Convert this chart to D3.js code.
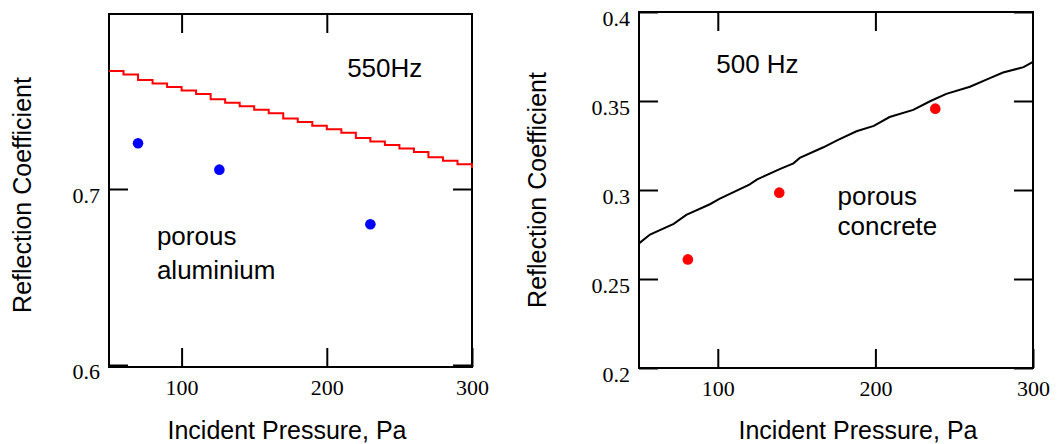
<!DOCTYPE html>
<html>
<head>
<meta charset="utf-8">
<script src="https://cdn.jsdelivr.net/npm/d3@7"></script>
<style>
    body { margin: 0; background: #fff; }
    .tick text { font-family: "Liberation Serif", "Times New Roman", serif; font-size: 22px; fill: #000; }
    .tick line { stroke: #000; stroke-width: 2px; }
    .label { font-family: "Liberation Sans", Arial, sans-serif; font-size: 25px; fill: #000; }
</style>
</head>
<body>
<svg width="1062" height="444"></svg>
<script>
// left panel: porous aluminium, 550 Hz
const aluPressure = [50, 60, 70, 80, 90, 100, 110, 120, 130, 140, 150, 160, 170,
    180, 190, 200, 210, 220, 230, 240, 250, 260, 270, 280, 290, 300];
const aluModel = [0.767, 0.765, 0.762, 0.760, 0.758, 0.756, 0.754, 0.751, 0.749,
    0.747, 0.745, 0.743, 0.740, 0.738, 0.736, 0.734, 0.732, 0.729, 0.727, 0.725,
    0.723, 0.721, 0.718, 0.716, 0.714, 0.712];
const aluMeasPressure = [70, 126, 230];
const aluMeasured = [0.726, 0.711, 0.680];

// right panel: porous concrete, 500 Hz
const conPressure = [50, 57, 72, 80, 95, 101, 120, 125, 140, 148, 152, 167, 176,
    188, 199, 209, 224, 235, 245, 260, 273, 281, 294, 300];
const conModel = [0.270, 0.275, 0.281, 0.286, 0.292, 0.295, 0.303, 0.306, 0.312,
    0.315, 0.318, 0.324, 0.328, 0.333, 0.336, 0.341, 0.345, 0.350, 0.354, 0.358,
    0.363, 0.366, 0.369, 0.372];
const conMeasPressure = [81, 139, 238];
const conMeasured = [0.261, 0.2985, 0.3457];

const xTicks = [100, 200, 300];
const aluYTicks = [0.6, 0.7];
const conYTicks = [0.2, 0.25, 0.3, 0.35, 0.4];

const svg = d3.select("svg");

function drawPanel(opt) {
    const x = d3.scaleLinear().domain([50, 300]).range([opt.left, opt.right]);
    const y = d3.scaleLinear().domain(opt.yDomain).range([opt.bottom, opt.top]);
    const g = svg.append("g");
    const tickLen = 19;

    // inward ticks on all four sides
    g.append("g")
        .attr("transform", "translate(0," + (opt.frameBottom) + ")")
        .call(d3.axisBottom(x).tickValues(xTicks).tickSize(-tickLen).tickPadding(12).tickFormat(d3.format("d")))
        .call(s => s.select(".domain").remove());
    g.append("g")
        .attr("transform", "translate(0," + (opt.frameTop) + ")")
        .call(d3.axisTop(x).tickValues(xTicks.filter(d => d < 300)).tickSize(-tickLen).tickFormat(""))
        .call(s => s.select(".domain").remove());
    g.append("g")
        .attr("transform", "translate(" + opt.left + ",0)")
        .call(d3.axisLeft(y).tickValues(opt.yTicks).tickSize(-tickLen).tickPadding(9).tickFormat(d => d))
        .call(s => s.select(".domain").remove())
        .call(s => s.selectAll(".tick text").attr("dy", "0.6em"));
    g.append("g")
        .attr("transform", "translate(" + opt.right + ",0)")
        .call(d3.axisRight(y).tickValues(opt.yTicks).tickSize(-tickLen).tickFormat(""))
        .call(s => s.select(".domain").remove());

    g.append("rect")
        .attr("x", opt.left)
        .attr("y", opt.frameTop)
        .attr("width", opt.right - opt.left)
        .attr("height", opt.frameBottom - opt.frameTop)
        .attr("fill", "none")
        .attr("stroke", "#000")
        .attr("stroke-width", 2);

    const line = d3.line()
        .x((d, i) => x(opt.pressure[i]))
        .y(d => y(d))
        .curve(opt.curve);
    g.append("path")
        .datum(opt.model)
        .attr("d", line)
        .attr("fill", "none")
        .attr("stroke", opt.lineColor)
        .attr("stroke-width", 2);

    g.selectAll("ellipse.pt")
        .data(opt.measured)
        .enter().append("ellipse")
        .attr("class", "pt")
        .attr("cx", (d, i) => x(opt.measPressure[i]))
        .attr("cy", d => y(d))
        .attr("rx", 5.3)
        .attr("ry", 5.3)
        .attr("fill", opt.dotColor);

    opt.notes.forEach(function (n) {
        g.append("text")
            .attr("class", "label")
            .style("font-size", "26px")
            .attr("x", x(n.x))
            .attr("y", y(n.y))
            .text(n.text);
    });

    // axis titles
    g.append("text")
        .attr("class", "label")
        .attr("text-anchor", "middle")
        .attr("x", opt.xTitleX)
        .attr("y", 439)
        .text("Incident Pressure, Pa");
    g.append("text")
        .attr("class", "label")
        .attr("text-anchor", "middle")
        .attr("transform", "translate(" + opt.yTitleX + "," + opt.yTitleY + ") rotate(-90)")
        .text("Reflection Coefficient");
}

drawPanel({
    left: 109, right: 472, top: 13, bottom: 365, frameTop: 14, frameBottom: 367,
    yDomain: [0.6, 0.8], yTicks: aluYTicks,
    pressure: aluPressure, model: aluModel, curve: d3.curveStepAfter, lineColor: "#ff0000",
    measPressure: aluMeasPressure, measured: aluMeasured, dotColor: "#0000ff",
    notes: [
        {x: 214, y: 0.7635, text: "550Hz"},
        {x: 83, y: 0.6682, text: "porous"},
        {x: 83, y: 0.6489, text: "aluminium"}
    ],
    xTitleX: 287, yTitleX: 31, yTitleY: 195
});

drawPanel({
    left: 639, right: 1033, top: 12, bottom: 368, frameTop: 12, frameBottom: 368,
    yDomain: [0.2, 0.4], yTicks: conYTicks,
    pressure: conPressure, model: conModel, curve: d3.curveLinear, lineColor: "#000",
    measPressure: conMeasPressure, measured: conMeasured, dotColor: "#ff0000",
    notes: [
        {x: 99, y: 0.3657, text: "500 Hz"},
        {x: 176, y: 0.2916, text: "porous"},
        {x: 176, y: 0.2747, text: "concrete"}
    ],
    xTitleX: 858, yTitleX: 546, yTitleY: 190
});
</script>
</body>
</html>
